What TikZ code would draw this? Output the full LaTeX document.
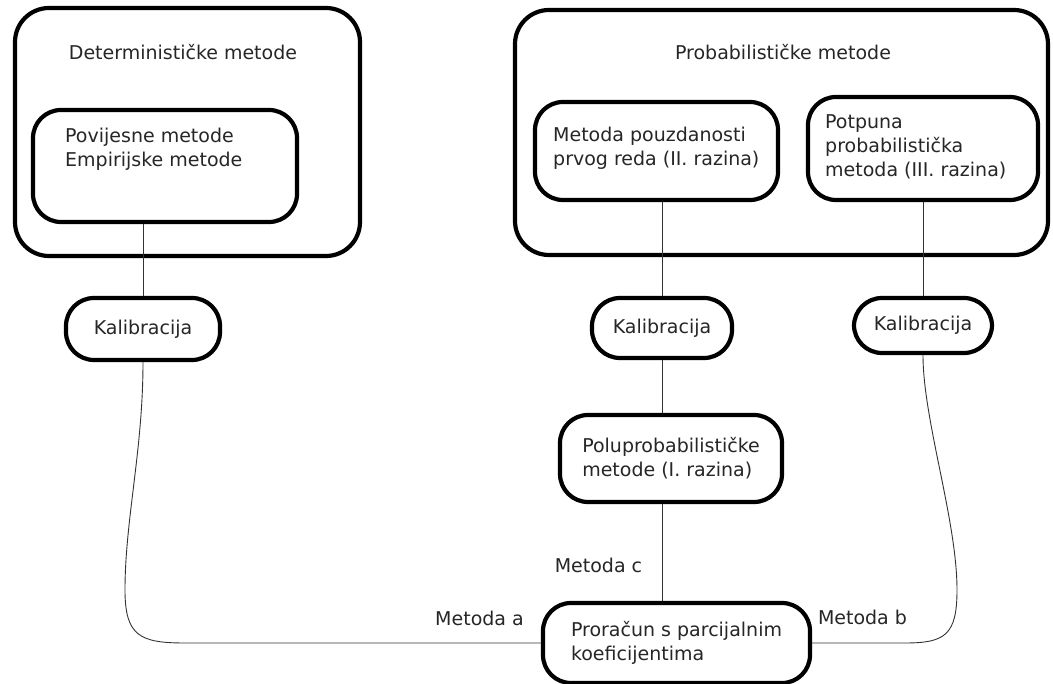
\documentclass[tikz,border=0pt]{standalone}
\usepackage{fontspec}
\setmainfont{DejaVu Sans}
\begin{document}
\begin{tikzpicture}[x=1pt,y=-1pt,
  box/.style={draw=black, line width=4.2pt, rounded corners=28pt, fill=white, inner sep=0pt},
  bigbox/.style={draw=black, line width=4.2pt, rounded corners=34pt, inner sep=0pt},
  lbl/.style={text=black!85, font=\fontsize{19}{24}\selectfont, inner sep=0pt, align=left},
  conn/.style={draw=black!80, line width=0.9pt}]
\useasboundingbox (0,0) rectangle (1053,684);
% outer groups
\node[bigbox, minimum width=345pt, minimum height=248pt] (det) at (187.5,132) {};
\node[bigbox, minimum width=533pt, minimum height=245pt] (prob) at (781.5,132.5) {};
\node[lbl] (dett) at (183,52) {Determinističke metode};
\node[lbl] (probt) at (783,52) {Probabilističke metode};
% inner boxes
\node[box, minimum width=264pt, minimum height=112pt] (hist) at (165,166) {};
\node[lbl, anchor=west] (histt) at (65,149.5) {Povijesne metode\\Empirijske metode};
\node[box, minimum width=243pt, minimum height=98pt] (form) at (656.5,151) {};
\node[lbl, anchor=west] (formt) at (553,148) {Metoda pouzdanosti\\prvog reda (II. razina)};
\node[box, minimum width=230pt, minimum height=103pt] (full) at (923,148.5) {};
\node[lbl, anchor=west] (fullt) at (825,147) {Potpuna\\probabilistička\\metoda (III. razina)};
% calibration
\node[box, lbl, minimum width=154pt, minimum height=62pt] (kal1) at (143,329) {Kalibracija};
\node[box, lbl, minimum width=140pt, minimum height=60pt] (kal2) at (662,328) {Kalibracija};
\node[box, lbl, minimum width=138pt, minimum height=55pt] (kal3) at (923,325.5) {Kalibracija};
% semi-probabilistic
\node[box, lbl, minimum width=222pt, minimum height=87pt] (semi) at (671,458.5) {Poluprobabilističke\\metode (I. razina)};
% partial factors
\node[box, lbl, minimum width=267pt, minimum height=80pt] (pr) at (676.5,643) {Proračun s parcijalnim\\koeficijentima};
% connectors
\draw[conn] (kal1.north |- hist.south) -- (kal1.north);
\draw[conn] (kal2.north |- form.south) -- (kal2.north);
\draw[conn] (kal3.north |- full.south) -- (kal3.north);
\draw[conn] (kal2.south) -- (kal2.south |- semi.north);
\draw[conn] (kal2.south |- semi.south) -- (kal2.south |- pr.north);
\draw[conn] (kal1.south) .. controls (143,450) and (125,520) .. (125,590)
   .. controls (125,636) and (140,643) .. (185,643) -- (pr.west);
\draw[conn] (kal3.south) .. controls (923,420) and (957,520) .. (957,590)
   .. controls (957,635) and (945,643) .. (905,643) -- (pr.east);
% method labels
\node[lbl] (ma) at (479.5,618) {Metoda a};
\node[lbl] (mb) at (862.5,617) {Metoda b};
\node[lbl] (mc) at (598.5,565) {Metoda c};
\end{tikzpicture}
\end{document}
